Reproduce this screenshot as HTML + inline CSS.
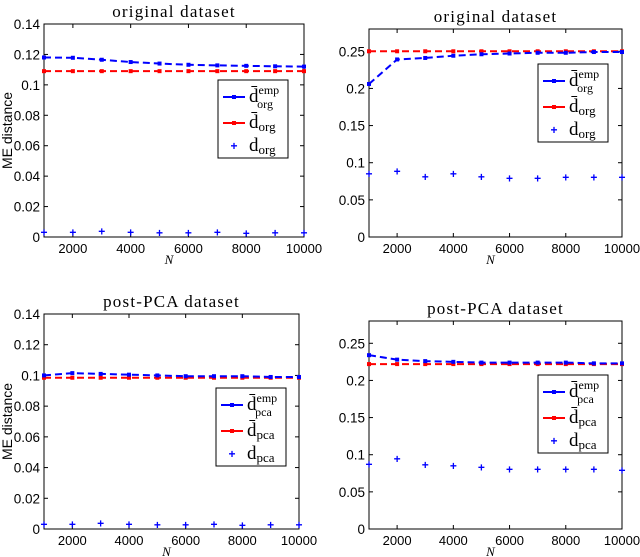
<!DOCTYPE html>
<html><head><meta charset="utf-8"><style>
body{margin:0;background:#fff;width:640px;height:557px;overflow:hidden}
svg{display:block}
text{font-family:"Liberation Sans",sans-serif}
.ser{font-family:"Liberation Serif",serif}
</style></head><body>
<svg id="fig" width="640" height="557"></svg>
<script>
const xVals=[1000,2000,3000,4000,5000,6000,7000,8000,9000,10000];
const xTicks=[2000,4000,6000,8000,10000];
const tlEmp=[0.118,0.1178,0.1165,0.115,0.114,0.1132,0.1128,0.1125,0.1122,0.112];
const tlRed=[0.109,0.109,0.109,0.109,0.109,0.109,0.109,0.109,0.109,0.109];
const tlPts=[0.003,0.003,0.0035,0.003,0.0025,0.0025,0.0028,0.0022,0.0025,0.0025];
const trEmp=[0.206,0.239,0.241,0.244,0.246,0.247,0.248,0.248,0.249,0.249];
const trRed=[0.25,0.25,0.25,0.25,0.25,0.25,0.25,0.25,0.25,0.25];
const trPts=[0.085,0.088,0.081,0.085,0.081,0.079,0.079,0.080,0.080,0.080];
const blEmp=[0.1,0.1015,0.101,0.1005,0.1,0.0995,0.0995,0.0995,0.099,0.099];
const blRed=[0.0985,0.0985,0.0985,0.0985,0.0985,0.0985,0.0985,0.0985,0.0985,0.0985];
const blPts=[0.003,0.003,0.0035,0.003,0.0025,0.0025,0.0028,0.0022,0.0025,0.0025];
const brEmp=[0.234,0.228,0.226,0.225,0.224,0.224,0.224,0.224,0.223,0.223];
const brRed=[0.222,0.222,0.222,0.222,0.222,0.222,0.222,0.222,0.222,0.222];
const brPts=[0.087,0.094,0.086,0.085,0.083,0.080,0.080,0.080,0.080,0.079];
const yTicksA=[0,0.02,0.04,0.06,0.08,0.1,0.12,0.14];
const yTicksB=[0,0.05,0.1,0.15,0.2,0.25];
const yLabelsA=["0","0.02","0.04","0.06","0.08","0.1","0.12","0.14"];
const yLabelsB=["0","0.05","0.1","0.15","0.2","0.25"];
const NS="http://www.w3.org/2000/svg";
const svg=document.getElementById('fig');
function mk(tag,attrs,parent){const e=document.createElementNS(NS,tag);for(const k in attrs)e.setAttribute(k,attrs[k]);(parent||svg).appendChild(e);return e;}
function panel(p){
  const g=mk('g',{});
  
  
  const xs=v=>p.x0+(v-1000)/9000*(p.x1-p.x0);
  const ys=v=>p.y1-(v/p.ymax)*(p.y1-p.y0);
  const box=mk('rect',{x:p.x0,y:p.y0,width:p.x1-p.x0,height:p.y1-p.y0,fill:'#fff',stroke:'#000','stroke-width':1},g);
  
  
  const t=mk('text',{x:(p.x0+p.x1)/2,y:p.y0-7,'text-anchor':'middle','font-size':17,class:'ser','letter-spacing':'1.2'},g);
  t.textContent=p.title;
  
  
  p.yt.forEach((v,i)=>{
    const y=ys(v);
    mk('line',{x1:p.x0,x2:p.x0+4,y1:y,y2:y,stroke:'#000'},g);
    mk('line',{x1:p.x1,x2:p.x1-4,y1:y,y2:y,stroke:'#000'},g);
    const l=mk('text',{x:p.x0-4,y:y+5,'text-anchor':'end','font-size':13.5},g);
    l.textContent=p.yl[i];
    
    
  });
  xTicks.forEach(v=>{
    const x=xs(v);
    mk('line',{x1:x,x2:x,y1:p.y1,y2:p.y1-4,stroke:'#000'},g);
    mk('line',{x1:x,x2:x,y1:p.y0,y2:p.y0+4,stroke:'#000'},g);
    const l=mk('text',{x:x,y:p.y1+16,'text-anchor':'middle','font-size':13},g);
    l.textContent=String(v);
    
    
  });
  const nl=mk('text',{x:(p.x0+p.x1)/2-5,y:p.y1+27,'text-anchor':'middle','font-size':13,'font-style':'italic',class:'ser'},g);
  nl.textContent='N';
  
  
  if(p.ylab){
    const yl=mk('text',{x:12,y:(p.y0+p.y1)/2,'text-anchor':'middle','font-size':14,transform:`rotate(-90 12 ${(p.y0+p.y1)/2})`},g);
    yl.textContent='ME distance';
    
    
  }
  const line=(arr,col,nm)=>{
    const pl=mk('polyline',{points:arr.map((v,i)=>xs(xVals[i])+','+ys(v)).join(' '),fill:'none',stroke:col,'stroke-width':2,'stroke-dasharray':'7,4'},g);
    
    
    arr.forEach((v,i)=>{const m=mk('rect',{x:xs(xVals[i])-2,y:ys(v)-2,width:4,height:4,fill:col},g);
      
      });
  };
  line(p.red,'#ff0000','theoretical-line');
  line(p.emp,'#0000ff','empirical-line');
  p.pts.forEach((v,i)=>{
    const c=mk('text',{x:xs(xVals[i]),y:ys(v)+4,'text-anchor':'middle','font-size':12,fill:'#0000ff','font-weight':'bold'},g);
    c.textContent='+';
    
    
  });
  const L=p.leg;
  const lg=mk('g',{},g);
  
  
  mk('rect',{x:L[0],y:L[1],width:70,height:78,fill:'#fff',stroke:'#000'},lg);
  const rows=[[L[1]+17,'#0000ff','line','emp'],[L[1]+43,'#ff0000','line',''],[L[1]+66,'#0000ff','pt','']];
  rows.forEach((r,i)=>{
    const e=mk('g',{},lg);
    
    
    if(r[2]==='line'){mk('line',{x1:L[0]+5,x2:L[0]+27,y1:r[0],y2:r[0],stroke:r[1],'stroke-width':2},e);
      mk('rect',{x:L[0]+14,y:r[0]-2,width:4,height:4,fill:r[1]},e);}
    else{const c=mk('text',{x:L[0]+16,y:r[0]+4,'text-anchor':'middle','font-size':12,fill:r[1],'font-weight':'bold'},e);c.textContent='+';}
    const tx=mk('text',{x:L[0]+31,y:r[0]+5,'font-size':19,class:'ser'},e);
    const d=mk('tspan',{},tx);d.textContent=(i<2?'d\u0304':'d');
    if(r[3]){const sp=mk('tspan',{dy:-8,'font-size':12},tx);sp.textContent='emp';
      const sb=mk('tspan',{dx:-22,dy:14,'font-size':12},tx);sb.textContent=p.sub;}
    else{const sb=mk('tspan',{dy:3,'font-size':13},tx);sb.textContent=p.sub;}
  });
}
panel({name:'panel-original-left',x0:44,x1:304,y0:24,y1:237,ymax:0.14,yt:yTicksA,yl:yLabelsA,title:'original dataset',emp:tlEmp,red:tlRed,pts:tlPts,leg:[218,80],sub:'org',ylab:true});
panel({name:'panel-original-right',x0:369,x1:622,y0:29,y1:237,ymax:0.28,yt:yTicksB,yl:yLabelsB,title:'original dataset',emp:trEmp,red:trRed,pts:trPts,leg:[538,64],sub:'org',ylab:false});
panel({name:'panel-pca-left',x0:44,x1:299,y0:314,y1:529,ymax:0.14,yt:yTicksA,yl:yLabelsA,title:'post-PCA dataset',emp:blEmp,red:blRed,pts:blPts,leg:[216,388],sub:'pca',ylab:true});
panel({name:'panel-pca-right',x0:369,x1:622,y0:321,y1:529,ymax:0.28,yt:yTicksB,yl:yLabelsB,title:'post-PCA dataset',emp:brEmp,red:brRed,pts:brPts,leg:[538,375],sub:'pca',ylab:false});
</script>
</body></html>
